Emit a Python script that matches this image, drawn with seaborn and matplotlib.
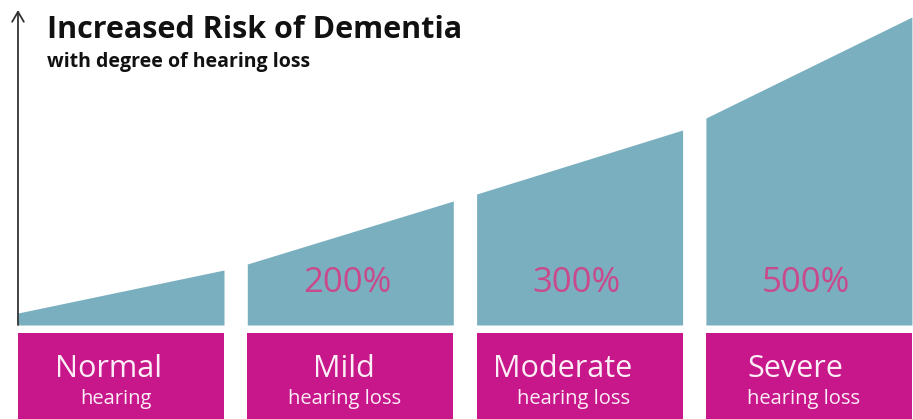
import matplotlib
matplotlib.use("Agg")
import matplotlib.pyplot as plt
import seaborn as sns

# ---- data ----
categories = ["Normal", "Mild", "Moderate", "Severe"]
sublabels = ["hearing", "hearing loss", "hearing loss", "hearing loss"]
risk_labels = ["", "200%", "300%", "500%"]
# height of the rising risk curve at the left and right edge of each band
curve_left = [12, 61, 131, 207]
curve_right = [55, 124, 195, 308]

title = "Increased Risk of Dementia"
subtitle = "with degree of hearing loss"

# ---- style ----
sns.set_theme(style="white")
plt.rcParams["font.family"] = ["Open Sans", "DejaVu Sans"]

TEAL = "#7aafbf"
MAGENTA = "#c8168b"
PCT = "#c84a8c"

fig = plt.figure(figsize=(9.13, 4.19), dpi=100)
ax = fig.add_axes([0, 0, 1, 1])
ax.set_xlim(-18, 895)
ax.set_ylim(-94, 325)
ax.axis("off")

step = 229.3
width = 206
main_dx = [-13, -6, -17, -14]
sub_dx = [-5, -6, -6, -5]

for i, cat in enumerate(categories):
    x0 = i * step
    x1 = x0 + width
    ax.fill_between([x0, x1], [0, 0], [curve_left[i], curve_right[i]],
                    color=TEAL, linewidth=0)
    ax.fill_between([x0, x1], [-8, -8], [-100, -100], color=MAGENTA, linewidth=0)
    cx = (x0 + x1) / 2
    ax.text(cx + main_dx[i], -52, cat, ha="center", va="baseline",
            fontsize=22, color="#fbeef6")
    ax.text(cx + sub_dx[i], -79, sublabels[i], ha="center", va="baseline",
            fontsize=14.5, color="#fbeef6")
    if risk_labels[i]:
        ax.text(cx - 3, 33, risk_labels[i], ha="center", va="baseline",
                fontsize=25, color=PCT)

# vertical arrow
ax.annotate("", xy=(0, 315), xytext=(0, 0),
            arrowprops=dict(arrowstyle="->,head_length=0.6,head_width=0.35",
                            color="#333333", lw=1.3, shrinkA=0, shrinkB=0))

ax.text(29, 287, title, ha="left", va="baseline", fontsize=22,
        fontweight="bold", color="#111111")
ax.text(29, 258, subtitle, ha="left", va="baseline", fontsize=14,
        fontweight="bold", color="#111111")

fig.savefig("out.png", dpi=100)
